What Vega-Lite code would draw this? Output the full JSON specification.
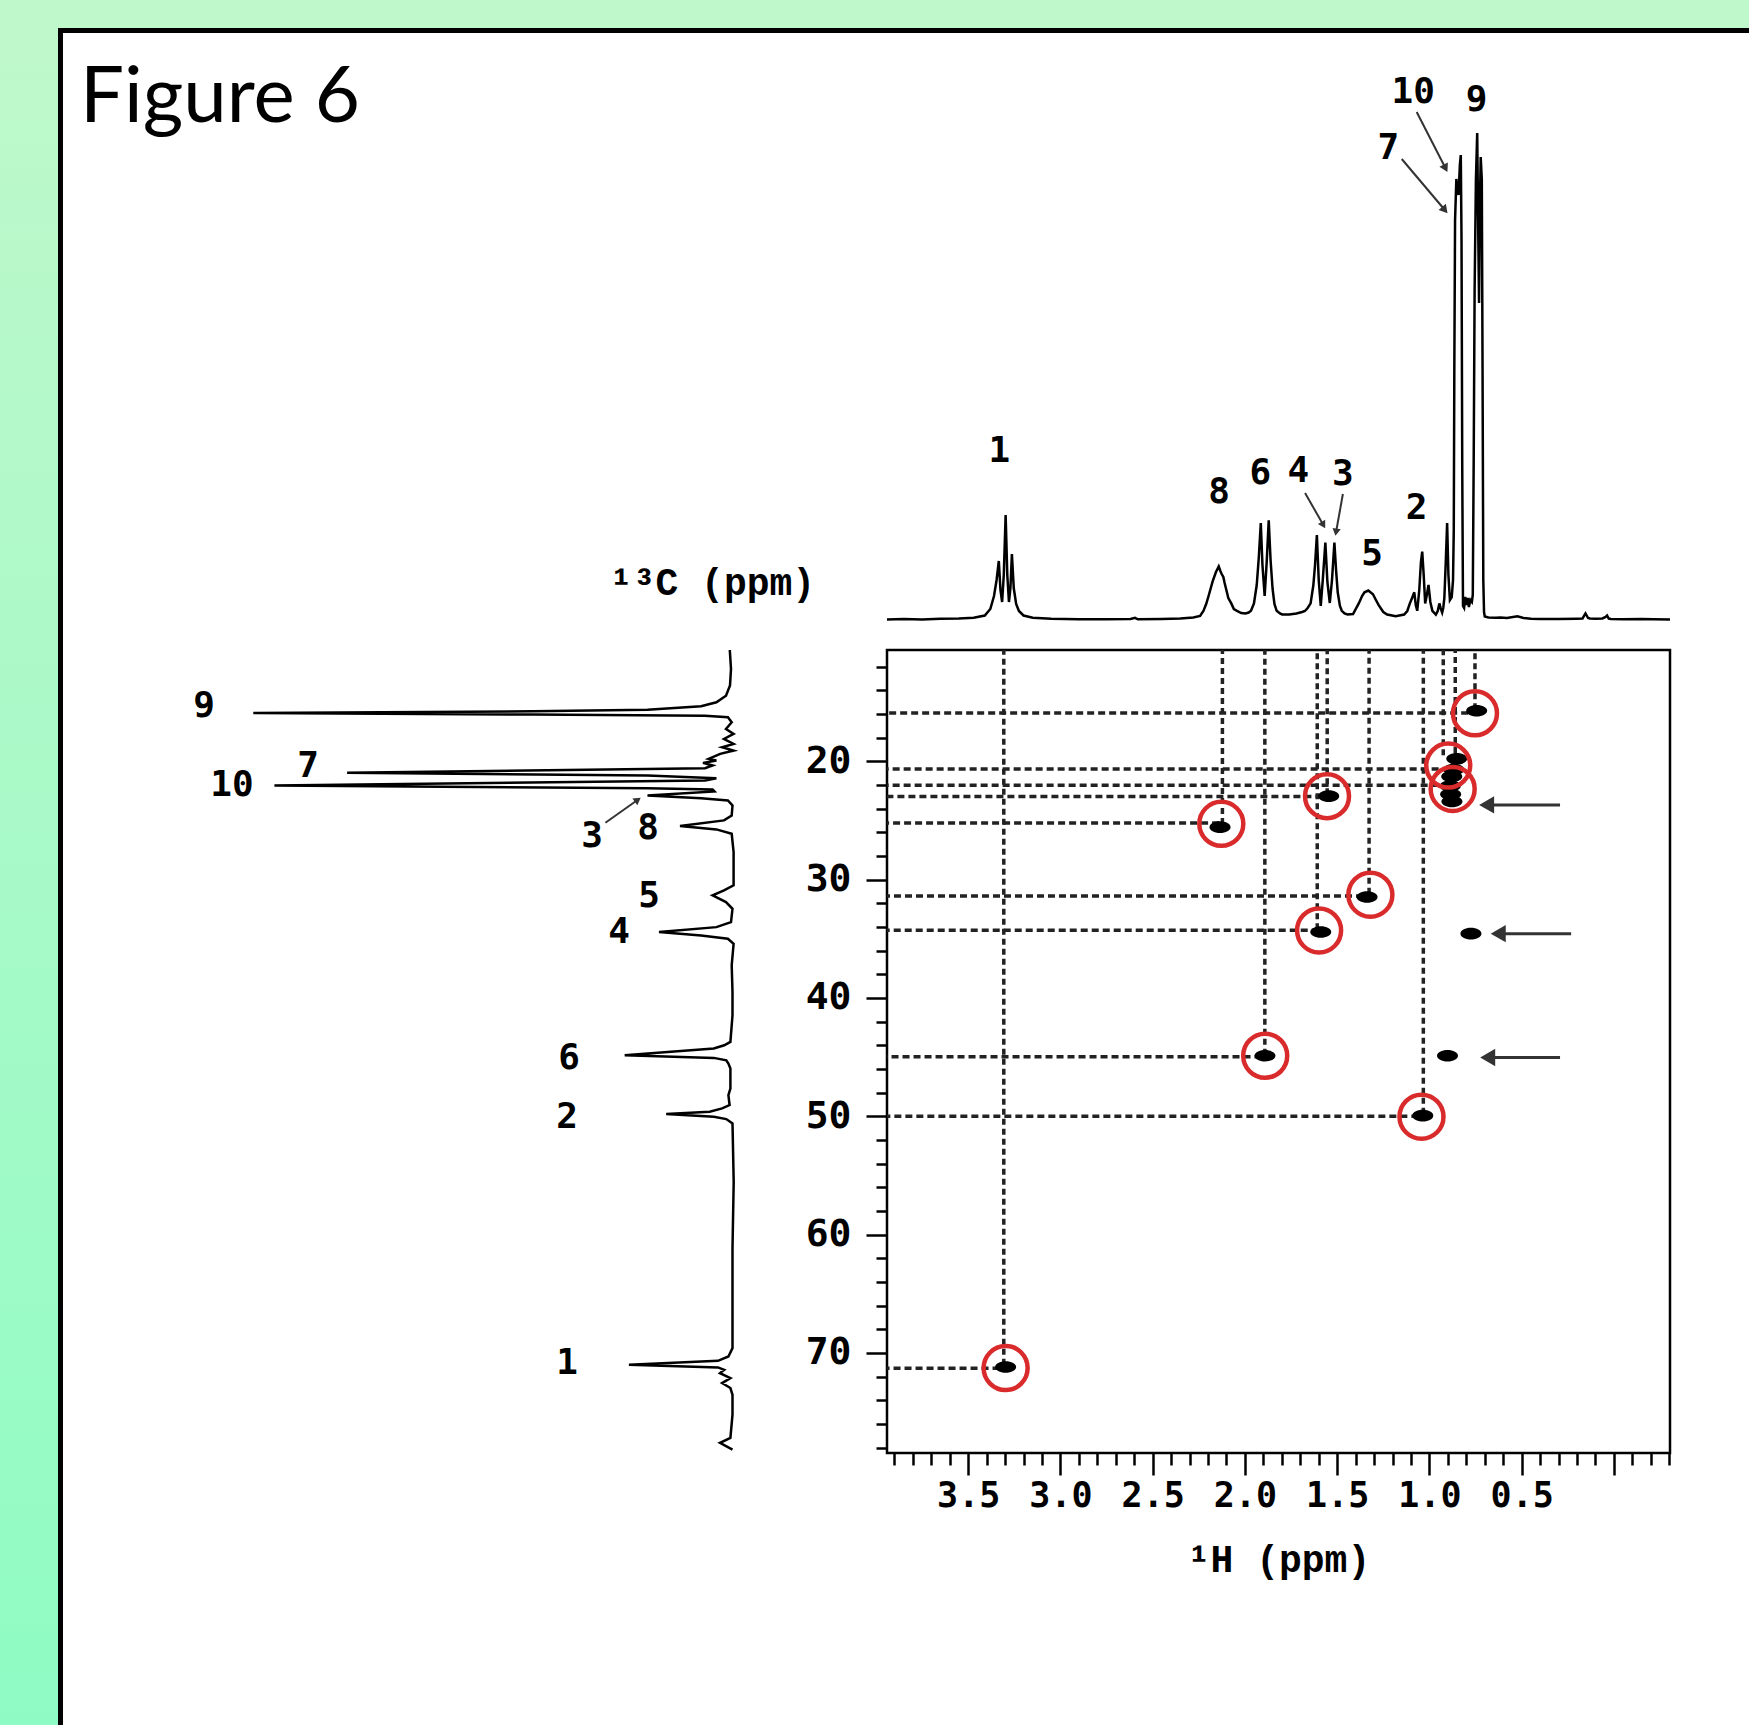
{
  "$schema": "https://vega.github.io/schema/vega-lite/v6.json",
  "background": "white",
  "padding": 0,
  "spacing": 0,
  "bounds": "flush",
  "align": "each",
  "columns": 6,
  "config": {"view": {"stroke": null}},
  "datasets": {
    "hspec": [
      {"h":3.94,"v":0.5},{"h":3.85,"v":1},{"h":3.75,"v":0.5},{"h":3.65,"v":1.2},{"h":3.55,"v":1.5},{"h":3.47,"v":2.2},{"h":3.41,"v":4.5},{"h":3.38,"v":11},{"h":3.36,"v":24},{"h":3.346,"v":40},{"h":3.334,"v":59},{"h":3.325,"v":30},{"h":3.316,"v":18},{"h":3.307,"v":45},{"h":3.297,"v":105},{"h":3.288,"v":45},{"h":3.279,"v":18},{"h":3.271,"v":32},{"h":3.263,"v":66},{"h":3.253,"v":32},{"h":3.24,"v":16},{"h":3.225,"v":9},{"h":3.2,"v":4.5},{"h":3.15,"v":2.2},{"h":3.05,"v":1.2},{"h":2.9,"v":0.8},{"h":2.75,"v":0.8},{"h":2.62,"v":1},{"h":2.596,"v":2.2},{"h":2.58,"v":0.7},{"h":2.45,"v":1},{"h":2.35,"v":1.5},{"h":2.28,"v":2.6},{"h":2.243,"v":4},{"h":2.225,"v":9},{"h":2.21,"v":16},{"h":2.197,"v":24},{"h":2.175,"v":38.7},{"h":2.157,"v":48},{"h":2.142,"v":53.5},{"h":2.133,"v":49},{"h":2.126,"v":46},{"h":2.117,"v":43},{"h":2.11,"v":37},{"h":2.102,"v":31},{"h":2.09,"v":22},{"h":2.074,"v":16.6},{"h":2.06,"v":11},{"h":2.043,"v":9.2},{"h":2.02,"v":7},{"h":1.997,"v":6.6},{"h":1.98,"v":7.5},{"h":1.967,"v":9.2},{"h":1.951,"v":16.6},{"h":1.936,"v":35},{"h":1.925,"v":62},{"h":1.914,"v":97},{"h":1.905,"v":55},{"h":1.893,"v":24},{"h":1.882,"v":58},{"h":1.871,"v":99.6},{"h":1.861,"v":60},{"h":1.85,"v":31},{"h":1.84,"v":16},{"h":1.828,"v":9.2},{"h":1.81,"v":6.5},{"h":1.798,"v":5.5},{"h":1.76,"v":5.5},{"h":1.721,"v":6.5},{"h":1.69,"v":8},{"h":1.675,"v":9},{"h":1.66,"v":12},{"h":1.644,"v":16.6},{"h":1.629,"v":35},{"h":1.62,"v":55},{"h":1.61,"v":85},{"h":1.6,"v":40},{"h":1.589,"v":14},{"h":1.578,"v":40},{"h":1.564,"v":77.5},{"h":1.553,"v":38},{"h":1.54,"v":17},{"h":1.528,"v":40},{"h":1.515,"v":77.5},{"h":1.506,"v":50},{"h":1.497,"v":27.7},{"h":1.485,"v":14},{"h":1.475,"v":9.2},{"h":1.46,"v":6.5},{"h":1.444,"v":5.5},{"h":1.414,"v":6},{"h":1.383,"v":16.6},{"h":1.365,"v":24},{"h":1.352,"v":27.7},{"h":1.331,"v":29.5},{"h":1.306,"v":25.8},{"h":1.29,"v":20},{"h":1.275,"v":14.8},{"h":1.25,"v":8},{"h":1.229,"v":5.5},{"h":1.183,"v":3.7},{"h":1.137,"v":5.5},{"h":1.12,"v":9},{"h":1.106,"v":16.6},{"h":1.094,"v":22},{"h":1.082,"v":27.7},{"h":1.074,"v":15},{"h":1.066,"v":9.2},{"h":1.055,"v":30},{"h":1.046,"v":58},{"h":1.039,"v":68.3},{"h":1.031,"v":45},{"h":1.023,"v":16.6},{"h":1.013,"v":26},{"h":1.005,"v":35},{"h":0.995,"v":18},{"h":0.984,"v":9.2},{"h":0.965,"v":5.5},{"h":0.955,"v":9},{"h":0.946,"v":16.6},{"h":0.938,"v":11},{"h":0.931,"v":7.4},{"h":0.925,"v":12},{"h":0.919,"v":22},{"h":0.911,"v":60},{"h":0.904,"v":97},{"h":0.897,"v":45},{"h":0.889,"v":20},{"h":0.879,"v":23},{"h":0.872,"v":40},{"h":0.868,"v":90},{"h":0.865,"v":250},{"h":0.861,"v":400},{"h":0.854,"v":441},{"h":0.848,"v":430},{"h":0.842,"v":425},{"h":0.835,"v":455},{"h":0.83,"v":465},{"h":0.826,"v":380},{"h":0.822,"v":150},{"h":0.818,"v":14},{"h":0.812,"v":12},{"h":0.806,"v":23},{"h":0.8,"v":15},{"h":0.792,"v":22},{"h":0.786,"v":13},{"h":0.778,"v":20},{"h":0.77,"v":18},{"h":0.765,"v":25},{"h":0.76,"v":160},{"h":0.755,"v":330},{"h":0.748,"v":440},{"h":0.741,"v":487},{"h":0.736,"v":400},{"h":0.731,"v":317},{"h":0.726,"v":420},{"h":0.722,"v":463},{"h":0.716,"v":440},{"h":0.712,"v":250},{"h":0.708,"v":40},{"h":0.704,"v":8},{"h":0.7,"v":3.5},{"h":0.68,"v":2.5},{"h":0.64,"v":2.2},{"h":0.615,"v":2.6},{"h":0.58,"v":2},{"h":0.523,"v":3.7},{"h":0.49,"v":2},{"h":0.45,"v":1.2},{"h":0.4,"v":1.1},{"h":0.3,"v":1},{"h":0.2,"v":1.3},{"h":0.17,"v":1.5},{"h":0.154,"v":6.6},{"h":0.14,"v":2},{"h":0.13,"v":1.5},{"h":0.1,"v":1.2},{"h":0.062,"v":1.5},{"h":0.045,"v":3},{"h":0.037,"v":4.4},{"h":0.028,"v":1.5},{"h":0.016,"v":1.1},{"h":-0.05,"v":0.8},{"h":-0.15,"v":0.9},{"h":-0.215,"v":0.7},{"h":-0.304,"v":0.4}
    ],
    "cspec": [
      {"c":10.6,"v":1.2},{"c":12.2,"v":0},{"c":13.6,"v":1},{"c":14.46,"v":5},{"c":15.02,"v":14.6},{"c":15.36,"v":29.9},{"c":15.64,"v":83.5},{"c":15.78,"v":198},{"c":15.92,"v":477.7},{"c":16.06,"v":198},{"c":16.15,"v":26},{"c":16.29,"v":3.1},{"c":16.71,"v":-0.7},{"c":17.27,"v":5},{"c":17.69,"v":-2.6},{"c":18.12,"v":7},{"c":18.54,"v":-2.6},{"c":18.82,"v":8.9},{"c":19.1,"v":-2.6},{"c":19.38,"v":10.8},{"c":19.8,"v":22.3},{"c":19.94,"v":14.6},{"c":20.14,"v":28},{"c":20.36,"v":18.4},{"c":20.59,"v":26},{"c":20.98,"v":383.9},{"c":21.2,"v":83.5},{"c":21.43,"v":14.6},{"c":21.63,"v":26},{"c":22.05,"v":456.6},{"c":22.28,"v":83.5},{"c":22.39,"v":18.4},{"c":22.56,"v":16.5},{"c":22.9,"v":83.5},{"c":23.12,"v":29.9},{"c":23.32,"v":3.1},{"c":23.74,"v":-1.5},{"c":24.58,"v":-0.7},{"c":25.0,"v":7},{"c":25.48,"v":51},{"c":25.76,"v":14.6},{"c":26.13,"v":-0.7},{"c":27.68,"v":-2.6},{"c":30.49,"v":-2.6},{"c":30.92,"v":7},{"c":31.34,"v":18.4},{"c":31.9,"v":5},{"c":32.47,"v":-1.5},{"c":33.6,"v":0},{"c":34.02,"v":14.6},{"c":34.44,"v":72},{"c":34.72,"v":29.9},{"c":35.0,"v":3.1},{"c":35.43,"v":-2.6},{"c":37.25,"v":-0.7},{"c":39.5,"v":-1.5},{"c":41.47,"v":-1.5},{"c":43.72,"v":0.6},{"c":44.0,"v":6.8},{"c":44.28,"v":17.2},{"c":44.84,"v":106.3},{"c":45.07,"v":17.2},{"c":45.27,"v":4.7},{"c":45.55,"v":2.6},{"c":45.97,"v":0.6},{"c":47.66,"v":0.6},{"c":48.22,"v":2.6},{"c":49.06,"v":1.4},{"c":49.34,"v":8.9},{"c":49.62,"v":21.3},{"c":49.82,"v":64.8},{"c":50.05,"v":17.2},{"c":50.24,"v":4.7},{"c":50.61,"v":-1.5},{"c":55.53,"v":-2.7},{"c":61.16,"v":-1.5},{"c":66.78,"v":-1.5},{"c":69.6,"v":-1.5},{"c":70.3,"v":2.6},{"c":70.67,"v":13},{"c":71.0,"v":102.1},{"c":71.23,"v":13},{"c":71.43,"v":6.8},{"c":71.71,"v":11},{"c":72.13,"v":0.6},{"c":72.55,"v":8.9},{"c":72.97,"v":0.6},{"c":73.54,"v":-1.5},{"c":75.22,"v":-1.5},{"c":77.19,"v":0.6},{"c":77.61,"v":11},{"c":78.18,"v":-1.5}
    ],
    "hlabels": [
      {"t":"1","h":3.331,"v":169},{"t":"8","h":2.14,"v":128},{"t":"6","h":1.916,"v":147},{"t":"4","h":1.71,"v":149},{"t":"3","h":1.469,"v":146},{"t":"5","h":1.311,"v":66},{"t":"2","h":1.07,"v":112},{"t":"10","h":1.088,"v":528},{"t":"7","h":1.223,"v":472},{"t":"9","h":0.744,"v":520}
    ],
    "harrows": [
      {"n":"10","h":1.069,"v":508,"h2":0.916,"v2":453},
      {"n":"7","h":1.15,"v":461,"h2":0.921,"v2":411},
      {"n":"4","h":1.674,"v":127,"h2":1.578,"v2":96},
      {"n":"3","h":1.469,"v":126,"h2":1.505,"v2":89}
    ],
    "clabels": [
      {"t":"9","c":15.31,"v":527},{"t":"7","c":20.37,"v":423},{"t":"10","c":21.97,"v":499},{"t":"3","c":26.28,"v":139},{"t":"8","c":25.66,"v":83},{"t":"5","c":31.43,"v":82},{"t":"4","c":34.43,"v":112},{"t":"6","c":45.12,"v":162},{"t":"2","c":50.04,"v":164},{"t":"1","c":70.86,"v":164}
    ],
    "carrows": [{"n":"3","c":25.2,"v":125.6,"c2":23.32,"v2":94.2}],
    "vlines": [
      {"h":3.307,"c":71.0},{"h":2.122,"c":25.3},{"h":1.892,"c":44.8},{"h":1.608,"c":34.2},{"h":1.554,"c":22.8},{"h":1.327,"c":31.2},{"h":1.033,"c":49.8},{"h":0.925,"c":19.5},{"h":0.86,"c":19.3},{"h":0.753,"c":15.6}
    ],
    "hlines": [
      {"c":15.92,"h":0.79},{"c":20.65,"h":0.95},{"c":22.02,"h":0.95},{"c":22.97,"h":1.58},{"c":25.23,"h":2.14},{"c":31.39,"h":1.36},{"c":34.29,"h":1.6},{"c":44.98,"h":1.91},{"c":50.0,"h":1.06},{"c":71.3,"h":3.33}
    ],
    "blobs": [
      {"h":3.297,"c":71.2},{"h":1.036,"c":49.95},{"h":1.891,"c":44.89},{"h":0.902,"c":44.89},{"h":1.589,"c":34.43},{"h":0.775,"c":34.57},{"h":1.338,"c":31.48},{"h":2.135,"c":25.57},{"h":1.546,"c":22.95},{"h":0.744,"c":15.73},{"h":0.852,"c":19.8},{"h":0.868,"c":20.7},{"h":0.879,"c":21.3},{"h":0.887,"c":22.1},{"h":0.885,"c":22.8},{"h":0.878,"c":23.4}
    ],
    "circles": [
      {"h":0.753,"c":15.95},{"h":0.898,"c":20.37},{"h":0.874,"c":22.34},{"h":1.555,"c":22.95},{"h":2.128,"c":25.29},{"h":1.32,"c":31.28},{"h":1.598,"c":34.3},{"h":1.89,"c":44.89},{"h":1.043,"c":50.04},{"h":3.297,"c":71.28}
    ],
    "arrows2d": [
      {"c":23.69,"h":0.69,"h2":0.292},{"c":34.57,"h":0.627,"h2":0.232},{"c":45.04,"h":0.684,"h2":0.292}
    ]
  },
  "concat": [
    {"width": 58, "height": 28, "data": {"values": []}, "mark": "rect", "view": {"fill": "#bff8cb", "stroke": null}},
    {"width": 5, "height": 28, "data": {"values": []}, "mark": "rect", "view": {"fill": "#bff8cb", "stroke": null}},
    {"width": 670, "height": 28, "data": {"values": []}, "mark": "rect", "view": {"fill": "#bff8cb", "stroke": null}},
    {"width": 154, "height": 28, "data": {"values": []}, "mark": "rect", "view": {"fill": "#bff8cb", "stroke": null}},
    {"width": 783, "height": 28, "data": {"values": []}, "mark": "rect", "view": {"fill": "#bff8cb", "stroke": null}},
    {"width": 79, "height": 28, "data": {"values": []}, "mark": "rect", "view": {"fill": "#bff8cb", "stroke": null}},

    {"width": 58, "height": 5, "data": {"values": []}, "mark": "rect", "view": {"fill": "#bef8cb", "stroke": null}},
    {"width": 5, "height": 5, "data": {"values": []}, "mark": "rect", "view": {"fill": "black", "stroke": null}},
    {"width": 670, "height": 5, "data": {"values": []}, "mark": "rect", "view": {"fill": "black", "stroke": null}},
    {"width": 154, "height": 5, "data": {"values": []}, "mark": "rect", "view": {"fill": "black", "stroke": null}},
    {"width": 783, "height": 5, "data": {"values": []}, "mark": "rect", "view": {"fill": "black", "stroke": null}},
    {"width": 79, "height": 5, "data": {"values": []}, "mark": "rect", "view": {"fill": "black", "stroke": null}},

    {"width": 58, "height": 592, "data": {"values": []}, "mark": "rect", "view": {"stroke": null, "fill": {"gradient": "linear", "x1": 0, "y1": 0, "x2": 0, "y2": 1, "stops": [{"offset": 0, "color": "#bef8cb"}, {"offset": 1, "color": "#aef9c8"}]}}},
    {"width": 5, "height": 592, "data": {"values": []}, "mark": "rect", "view": {"fill": "black", "stroke": null}},
    {"width": 670, "height": 592, "data": {"values": []}, "mark": "rect",
     "title": {"text": "Figure 6", "anchor": "start", "font": "Lato", "fontSize": 78, "fontWeight": "normal", "color": "black", "dx": 17, "dy": 105, "offset": 0}},
    {"width": 154, "height": 592, "data": {"values": []}, "mark": "rect"},
    {
      "width": 783, "height": 592,
      "encoding": {
        "x": {"field": "h", "type": "quantitative", "scale": {"domain": [-0.304, 3.94], "reverse": true, "nice": false, "zero": false}, "axis": null},
        "y": {"field": "v", "type": "quantitative", "scale": {"domain": [-5, 587], "nice": false, "zero": false}, "axis": null}
      },
      "layer": [
        {"data": {"name": "hspec"}, "mark": {"type": "line", "color": "black", "strokeWidth": 2.5}},
        {"data": {"name": "hlabels"}, "mark": {"type": "text", "font": "DejaVu Sans Mono", "fontWeight": "bold", "fontSize": 36, "color": "black"}, "encoding": {"text": {"field": "t"}}},
        {"data": {"name": "harrows"}, "mark": {"type": "rule", "color": "#333333", "strokeWidth": 2}, "encoding": {"x2": {"field": "h2"}, "y2": {"field": "v2"}}},
        {"data": {"name": "harrows"}, "transform": [{"filter": "datum.n === '10'"}], "mark": {"type": "point", "shape": "triangle", "filled": true, "color": "#333333", "opacity": 1, "size": 90, "angle": 153}, "encoding": {"x": {"field": "h2", "type": "quantitative"}, "y": {"field": "v2", "type": "quantitative"}}},
        {"data": {"name": "harrows"}, "transform": [{"filter": "datum.n === '7'"}], "mark": {"type": "point", "shape": "triangle", "filled": true, "color": "#333333", "opacity": 1, "size": 90, "angle": 140}, "encoding": {"x": {"field": "h2", "type": "quantitative"}, "y": {"field": "v2", "type": "quantitative"}}},
        {"data": {"name": "harrows"}, "transform": [{"filter": "datum.n === '4'"}], "mark": {"type": "point", "shape": "triangle", "filled": true, "color": "#333333", "opacity": 1, "size": 70, "angle": 150}, "encoding": {"x": {"field": "h2", "type": "quantitative"}, "y": {"field": "v2", "type": "quantitative"}}},
        {"data": {"name": "harrows"}, "transform": [{"filter": "datum.n === '3'"}], "mark": {"type": "point", "shape": "triangle", "filled": true, "color": "#333333", "opacity": 1, "size": 70, "angle": 190}, "encoding": {"x": {"field": "h2", "type": "quantitative"}, "y": {"field": "v2", "type": "quantitative"}}}
      ]
    },
    {"width": 79, "height": 592, "data": {"values": []}, "mark": "rect"},

    {"width": 58, "height": 25, "data": {"values": []}, "mark": "rect", "view": {"fill": "#adf9c8", "stroke": null}},
    {"width": 5, "height": 25, "data": {"values": []}, "mark": "rect", "view": {"fill": "black", "stroke": null}},
    {"width": 670, "height": 25, "data": {"values": []}, "mark": "rect"},
    {"width": 154, "height": 25, "data": {"values": []}, "mark": "rect"},
    {"width": 783, "height": 25, "data": {"values": []}, "mark": "rect"},
    {"width": 79, "height": 25, "data": {"values": []}, "mark": "rect"},

    {"width": 58, "height": 803, "data": {"values": []}, "mark": "rect", "view": {"stroke": null, "fill": {"gradient": "linear", "x1": 0, "y1": 0, "x2": 0, "y2": 1, "stops": [{"offset": 0, "color": "#adf9c8"}, {"offset": 1, "color": "#97fbc5"}]}}},
    {"width": 5, "height": 803, "data": {"values": []}, "mark": "rect", "view": {"fill": "black", "stroke": null}},
    {
      "width": 670, "height": 803,
      "encoding": {
        "x": {"field": "v", "type": "quantitative", "scale": {"domain": [-2, 668], "reverse": true, "nice": false, "zero": false}, "axis": null},
        "y": {"field": "c", "type": "quantitative", "scale": {"domain": [10.6, 78.46], "reverse": true, "nice": false, "zero": false}, "axis": null}
      },
      "layer": [
        {"data": {"name": "cspec"}, "mark": {"type": "line", "color": "black", "strokeWidth": 2.5}, "encoding": {"order": {"field": "c", "type": "quantitative"}}},
        {"data": {"name": "clabels"}, "mark": {"type": "text", "font": "DejaVu Sans Mono", "fontWeight": "bold", "fontSize": 36, "color": "black"}, "encoding": {"text": {"field": "t"}}},
        {"data": {"name": "carrows"}, "mark": {"type": "rule", "color": "#333333", "strokeWidth": 2}, "encoding": {"x2": {"field": "v2"}, "y2": {"field": "c2"}}},
        {"data": {"name": "carrows"}, "mark": {"type": "point", "shape": "triangle", "filled": true, "color": "#333333", "opacity": 1, "size": 70, "angle": 54}, "encoding": {"x": {"field": "v2", "type": "quantitative"}, "y": {"field": "c2", "type": "quantitative"}}}
      ]
    },
    {"width": 154, "height": 803, "data": {"values": []}, "mark": "rect"},
    {
      "width": 783, "height": 803,
      "view": {"stroke": "black", "strokeWidth": 2.5},
      "encoding": {
        "x": {
          "field": "h", "type": "quantitative",
          "scale": {"domain": [-0.304, 3.94], "reverse": true, "nice": false, "zero": false},
          "axis": {
            "values": [3.9,3.8,3.7,3.6,3.5,3.4,3.3,3.2,3.1,3.0,2.9,2.8,2.7,2.6,2.5,2.4,2.3,2.2,2.1,2.0,1.9,1.8,1.7,1.6,1.5,1.4,1.3,1.2,1.1,1.0,0.9,0.8,0.7,0.6,0.5,0.4,0.3,0.2,0.1,0,-0.1,-0.2,-0.3],
            "title": "¹H (ppm)",
            "domain": false, "grid": false,
            "tickColor": "black", "tickWidth": 2.5,
            "tickSize": {"condition": {"test": "abs(datum.value*2 - round(datum.value*2)) < 0.01", "value": 22}, "value": 12},
            "labelExpr": "abs(datum.value*2 - round(datum.value*2)) < 0.01 && datum.value > 0.2 ? format(datum.value, '.1f') : ''",
            "labelFont": "DejaVu Sans Mono", "labelFontWeight": "bold", "labelFontSize": 35, "labelColor": "black",
            "labelPadding": 3, "labelOverlap": false, "labelFlush": false,
            "titleFont": "Liberation Mono", "titleFontWeight": "bold", "titleFontSize": 38, "titleColor": "black", "titlePadding": 28
          }
        },
        "y": {
          "field": "c", "type": "quantitative",
          "scale": {"domain": [10.6, 78.46], "reverse": true, "nice": false, "zero": false},
          "axis": {
            "values": [12,14,16,18,20,22,24,26,28,30,32,34,36,38,40,42,44,46,48,50,52,54,56,58,60,62,64,66,68,70,72,74,76,78],
            "title": "¹³C (ppm)",
            "titleAngle": 0, "titleX": -175, "titleY": -67, "titleAlign": "center", "titleBaseline": "middle",
            "domain": false, "grid": false,
            "tickColor": "black", "tickWidth": 2.5,
            "tickSize": {"condition": {"test": "datum.value % 10 === 0", "value": 21}, "value": 11},
            "labelExpr": "datum.value % 10 === 0 ? datum.label : ''",
            "labelFont": "DejaVu Sans Mono", "labelFontWeight": "bold", "labelFontSize": 38, "labelColor": "black",
            "labelPadding": 15, "labelOverlap": false, "labelFlush": false,
            "titleFont": "Liberation Mono", "titleFontWeight": "bold", "titleFontSize": 38, "titleColor": "black"
          }
        }
      },
      "layer": [
        {"data": {"name": "vlines"}, "mark": {"type": "rule", "color": "#222222", "strokeWidth": 3.5, "strokeDash": [6, 4]}, "encoding": {"y2": {"datum": 10.6}}},
        {"data": {"name": "hlines"}, "mark": {"type": "rule", "color": "#222222", "strokeWidth": 3.5, "strokeDash": [7, 4]}, "encoding": {"x2": {"datum": 3.94}}},
        {"data": {"name": "blobs"}, "mark": {"type": "point", "shape": "M -1 0 A 1 0.55 0 1 1 1 0 A 1 0.55 0 1 1 -1 0 Z", "filled": true, "color": "black", "opacity": 1, "size": 440}},
        {"data": {"name": "circles"}, "mark": {"type": "point", "shape": "circle", "filled": false, "color": "#d92b2b", "strokeWidth": 4.5, "opacity": 1, "size": 1936}},
        {"data": {"name": "arrows2d"}, "mark": {"type": "rule", "color": "#333333", "strokeWidth": 3}, "encoding": {"x2": {"field": "h2"}}},
        {"data": {"name": "arrows2d"}, "mark": {"type": "point", "shape": "triangle-left", "filled": true, "color": "#333333", "opacity": 1, "size": 300}}
      ]
    },
    {"width": 79, "height": 803, "data": {"values": []}, "mark": "rect"},

    {"width": 58, "height": 272, "data": {"values": []}, "mark": "rect", "view": {"stroke": null, "fill": {"gradient": "linear", "x1": 0, "y1": 0, "x2": 0, "y2": 1, "stops": [{"offset": 0, "color": "#97fbc5"}, {"offset": 1, "color": "#8ffbc4"}]}}},
    {"width": 5, "height": 272, "data": {"values": []}, "mark": "rect", "view": {"fill": "black", "stroke": null}},
    {"width": 670, "height": 272, "data": {"values": []}, "mark": "rect"},
    {"width": 154, "height": 272, "data": {"values": []}, "mark": "rect"},
    {"width": 783, "height": 272, "data": {"values": []}, "mark": "rect"},
    {"width": 79, "height": 272, "data": {"values": []}, "mark": "rect"}
  ]
}
